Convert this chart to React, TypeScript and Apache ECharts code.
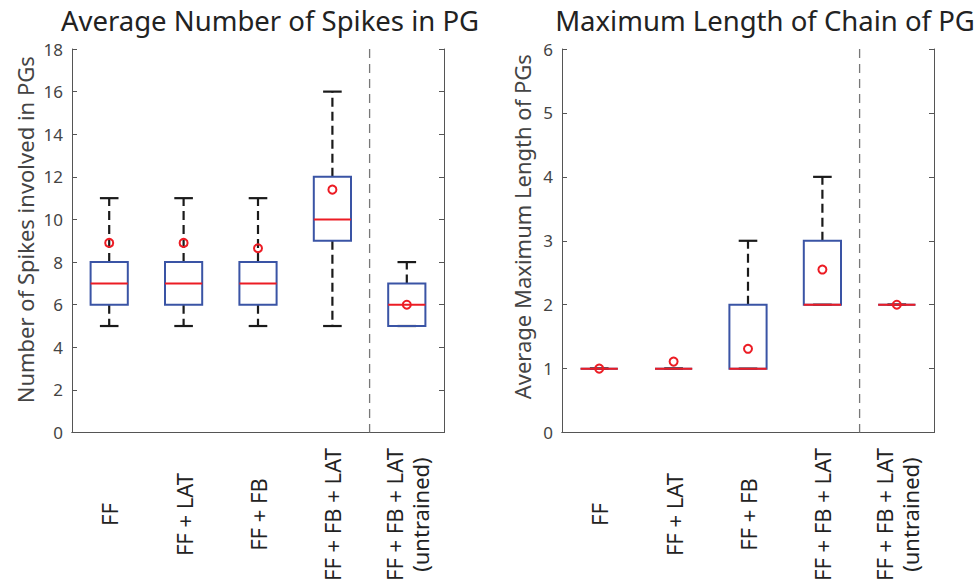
import React, { useEffect, useRef } from "react";
import * as echarts from "echarts";

const categories = ["FF", "FF + LAT", "FF + FB", "FF + FB + LAT", "FF + FB + LAT\n(untrained)"];

// Left panel: Average Number of Spikes in PG
const spikeMin = [5, 5, 5, 5, 5];
const spikeQ1 = [6, 6, 6, 9, 5];
const spikeMedian = [7, 7, 7, 10, 6];
const spikeQ3 = [8, 8, 8, 12, 7];
const spikeMax = [11, 11, 11, 16, 8];
const spikeMean = [8.9, 8.9, 8.65, 11.4, 6];

// Right panel: Maximum Length of Chain of PG
const chainMin = [1, 1, 1, 2, 2];
const chainQ1 = [1, 1, 1, 2, 2];
const chainMedian = [1, 1, 1, 2, 2];
const chainQ3 = [1, 1, 2, 3, 2];
const chainMax = [1, 1, 3, 4, 2];
const chainMean = [1, 1.11, 1.31, 2.55, 2];

const spikeTicks = { min: 0, max: 18, interval: 2 };
const chainTicks = { min: 0, max: 6, interval: 1 };

const BLUE = "#3a54a5";
const RED = "#ec1c24";
const BLACK = "#1a1a1a";
const AXIS = "#555555";
const TEXT = "#444444";
const FONT = "Noto Sans";

function buildRows(mn: number[], q1: number[], md: number[], q3: number[], mx: number[], mean: number[]) {
  return categories.map((_, i) => [i, mn[i], q1[i], md[i], q3[i], mx[i], mean[i]]);
}

const renderBox = (params: any, api: any) => {
  const i = api.value(0);
  const vmin = api.value(1);
  const q1 = api.value(2);
  const med = api.value(3);
  const q3 = api.value(4);
  const vmax = api.value(5);
  const mean = api.value(6);
  const x = api.coord([i, 0])[0];
  const band = api.size([1, 0])[0];
  const bw = band * 0.5;
  const cw = band * 0.25;
  const y = (v: number) => api.coord([i, v])[1];
  const children: any[] = [];

  if (params.dataIndex === 0) {
    const cs = params.coordSys;
    const xs = (api.coord([3, 0])[0] + api.coord([4, 0])[0]) / 2;
    children.push({
      type: "line",
      shape: { x1: xs, y1: cs.y, x2: xs, y2: cs.y + cs.height },
      style: { stroke: "#777777", lineWidth: 1.3, lineDash: [9, 6] },
    });
  }

  if (vmax > q3) {
    children.push({
      type: "line",
      shape: { x1: x, y1: y(q3), x2: x, y2: y(vmax) },
      style: { stroke: BLACK, lineWidth: 2.2, lineDash: [9, 5] },
    });
  }
  if (vmin < q1) {
    children.push({
      type: "line",
      shape: { x1: x, y1: y(q1), x2: x, y2: y(vmin) },
      style: { stroke: BLACK, lineWidth: 2.2, lineDash: [9, 5] },
    });
  }
  [vmin, vmax].forEach((v) => {
    children.push({
      type: "line",
      shape: { x1: x - cw / 2, y1: y(v), x2: x + cw / 2, y2: y(v) },
      style: { stroke: BLACK, lineWidth: 2.2 },
    });
  });
  children.push({
    type: "rect",
    shape: { x: x - bw / 2, y: y(q3), width: bw, height: y(q1) - y(q3) },
    style: { fill: "none", stroke: BLUE, lineWidth: 2 },
  });
  children.push({
    type: "line",
    shape: { x1: x - bw / 2, y1: y(med), x2: x + bw / 2, y2: y(med) },
    style: { stroke: RED, lineWidth: 2 },
  });
  children.push({
    type: "circle",
    shape: { cx: x, cy: y(mean), r: 4 },
    style: { fill: "none", stroke: RED, lineWidth: 2 },
  });
  return { type: "group", children };
};

export default function App() {
  const ref = useRef<HTMLDivElement>(null);

  useEffect(() => {
    if (!ref.current) return;
    const chart = echarts.init(ref.current, null, { renderer: "svg" });

    const grids = [
      { left: 72, top: 49, width: 372, height: 384 },
      { left: 562, top: 49, width: 372, height: 384 },
    ];

    const bottomX = (gi: number) => ({
      type: "category",
      gridIndex: gi,
      data: categories,
      position: "bottom",
      axisLine: { lineStyle: { color: AXIS, width: 1 } },
      axisTick: { inside: true, alignWithLabel: true, length: 5, lineStyle: { color: AXIS } },
      axisLabel: {
        rotate: 90,
        align: "center",
        verticalAlign: "middle",
        margin: 82,
        fontSize: 22,
        fontFamily: FONT,
        color: "#222222",
        lineHeight: 26,
        interval: 0,
      },
      splitLine: { show: false },
    });
    const topX = (gi: number) => ({
      type: "category",
      gridIndex: gi,
      data: categories,
      position: "top",
      axisLine: { lineStyle: { color: AXIS, width: 1 } },
      axisTick: { inside: true, alignWithLabel: true, length: 5, lineStyle: { color: AXIS } },
      axisLabel: { show: false },
      splitLine: { show: false },
    });
    const leftY = (gi: number, t: any, name: string, gap: number, shift: number) => ({
      type: "value",
      gridIndex: gi,
      position: "left",
      min: t.min,
      max: t.max,
      interval: t.interval,
      name,
      nameLocation: "middle",
      nameGap: gap,
      nameTextStyle: { fontSize: 22, fontFamily: FONT, color: TEXT, padding: [0, 0, 0, shift] },
      axisLine: { show: true, lineStyle: { color: AXIS, width: 1 } },
      axisTick: { show: true, inside: true, length: 5, lineStyle: { color: AXIS } },
      axisLabel: { fontSize: 17, fontFamily: FONT, color: TEXT, margin: 9 },
      splitLine: { show: false },
    });
    const rightY = (gi: number, t: any) => ({
      type: "value",
      gridIndex: gi,
      position: "right",
      min: t.min,
      max: t.max,
      interval: t.interval,
      axisLine: { show: true, lineStyle: { color: AXIS, width: 1 } },
      axisTick: { show: true, inside: true, length: 5, lineStyle: { color: AXIS } },
      axisLabel: { show: false },
      splitLine: { show: false },
    });

    chart.setOption({
      animation: false,
      backgroundColor: "#ffffff",
      title: [
        {
          text: "Average Number of Spikes in PG",
          left: 265,
          top: 1,
          textAlign: "center",
          textStyle: { fontSize: 27.5, fontWeight: "normal", fontFamily: FONT, color: "#222222" },
        },
        {
          text: "Maximum Length of Chain of PG",
          left: 760,
          top: 1,
          textAlign: "center",
          textStyle: { fontSize: 27.5, fontWeight: "normal", fontFamily: FONT, color: "#222222" },
        },
      ],
      grid: grids,
      xAxis: [bottomX(0), topX(0), bottomX(1), topX(1)],
      yAxis: [
        leftY(0, spikeTicks, "Number of Spikes involved in PGs", 36, 22),
        rightY(0, spikeTicks),
        leftY(1, chainTicks, "Average Maximum Length of PGs", 29, 28),
        rightY(1, chainTicks),
      ],
      series: [
        {
          type: "custom",
          xAxisIndex: 0,
          yAxisIndex: 0,
          renderItem: renderBox,
          encode: { x: 0, y: [1, 2, 3, 4, 5, 6] },
          data: buildRows(spikeMin, spikeQ1, spikeMedian, spikeQ3, spikeMax, spikeMean),
          clip: false,
        },
        {
          type: "custom",
          xAxisIndex: 2,
          yAxisIndex: 2,
          renderItem: renderBox,
          encode: { x: 0, y: [1, 2, 3, 4, 5, 6] },
          data: buildRows(chainMin, chainQ1, chainMedian, chainQ3, chainMax, chainMean),
          clip: false,
        },
      ],
    });

    return () => chart.dispose();
  }, []);

  return (
    <div
      ref={ref}
      style={{ position: "fixed", left: 0, top: 0, width: 977, height: 584, background: "#fff" }}
    />
  );
}
